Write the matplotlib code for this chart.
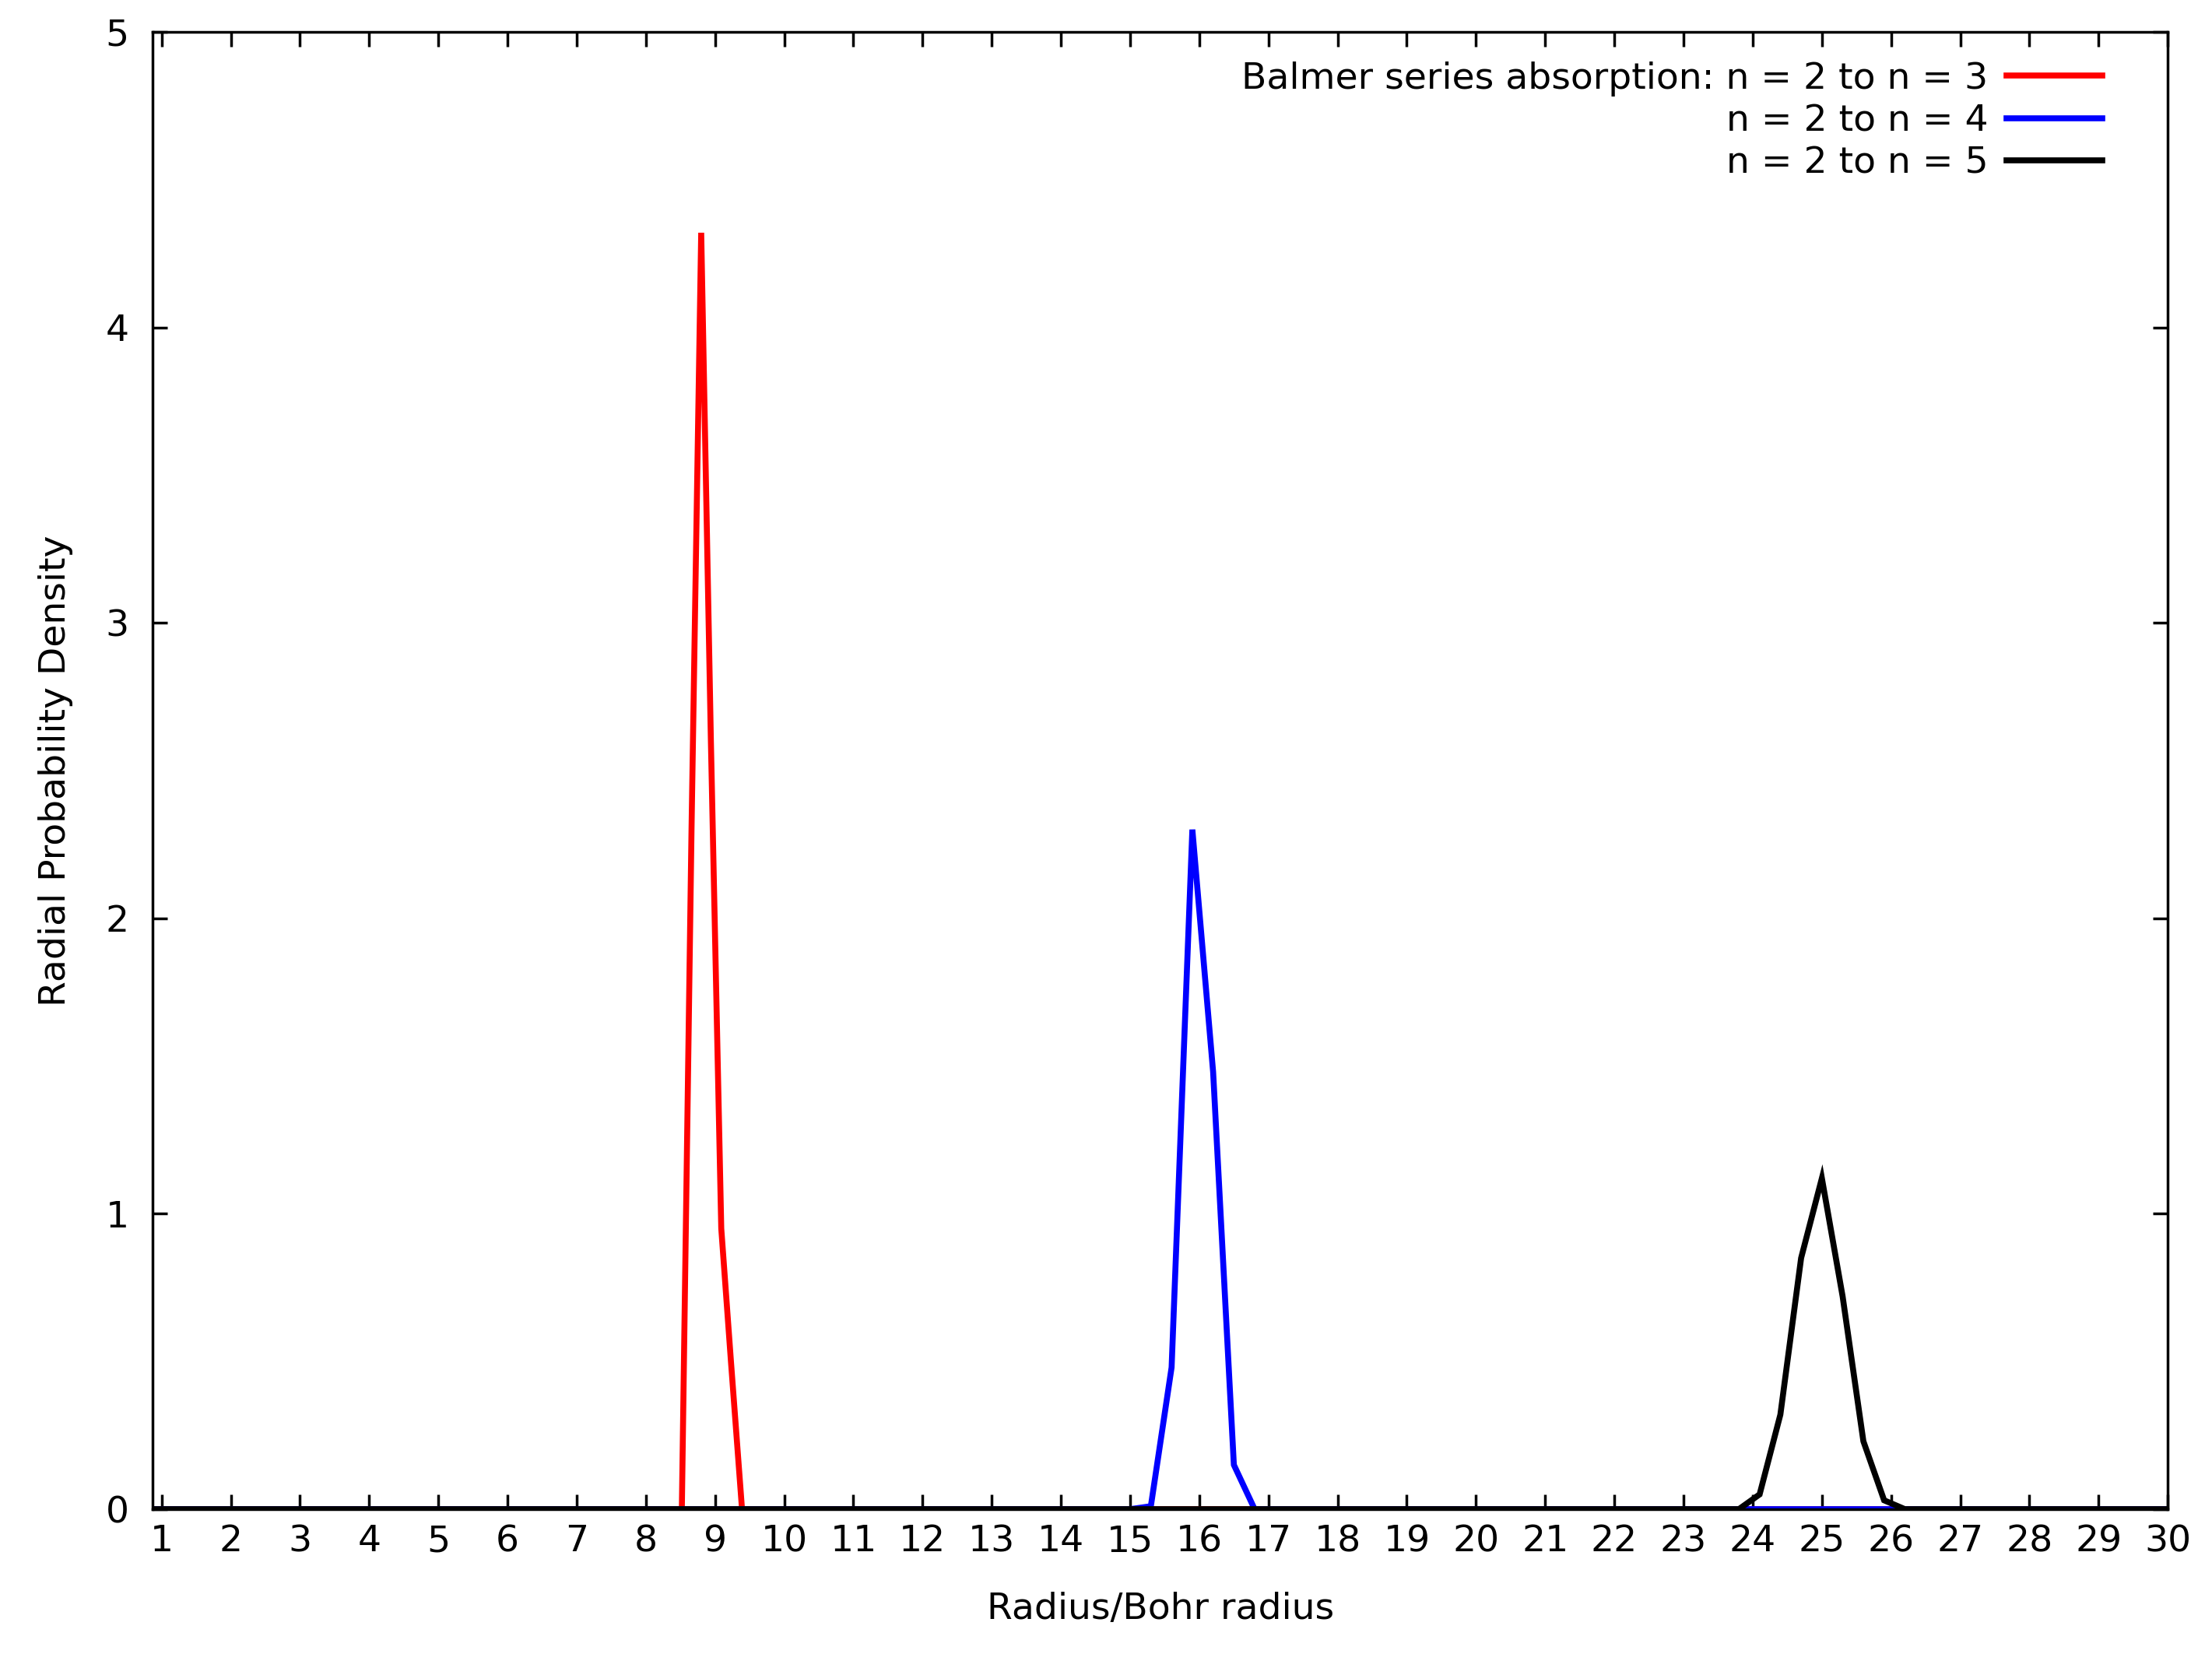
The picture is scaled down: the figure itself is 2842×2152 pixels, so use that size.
import matplotlib
matplotlib.use("Agg")
import matplotlib.pyplot as plt

labels = ["Balmer series absorption: n = 2 to n = 3", "n = 2 to n = 4", "n = 2 to n = 5"]
colors = ["#ff0000", "#0000ff", "#000000"]

x_red = [0.87, 8.52, 8.66, 8.80, 8.94, 9.09, 9.23, 9.39, 30.0]
y_red = [0.0, 0.0, 2.3, 4.32, 2.6, 0.95, 0.5, 0.0, 0.0]

x_blue = [0.87, 15.0, 15.3, 15.6, 15.9, 16.2, 16.5, 16.8, 30.0]
y_blue = [0.0, 0.0, 0.01, 0.48, 2.30, 1.48, 0.15, 0.0, 0.0]

x_black = [0.87, 23.5, 23.8, 24.1, 24.4, 24.7, 25.0, 25.3, 25.6, 25.9, 26.2, 30.0]
y_black = [0.0, 0.0, 0.0, 0.05, 0.32, 0.85, 1.12, 0.72, 0.23, 0.03, 0.0, 0.0]

xticks = list(range(1, 31))
yticks = [0, 1, 2, 3, 4, 5]

fig = plt.figure(figsize=(28.42, 21.52), dpi=100)
ax = fig.add_axes([0.069, 0.099, 0.911, 0.882])
for xs, ys, c, l in zip([x_red, x_blue, x_black], [y_red, y_blue, y_black], colors, labels):
    ax.plot(xs, ys, color=c, lw=5.5, label=l, solid_joinstyle="miter")

ax.set_xlim(0.87, 30)
ax.set_ylim(0, 5)
ax.set_xticks(xticks)
ax.set_yticks(yticks)
ax.tick_params(direction="in", length=14, width=2.5, labelsize=34, top=True, right=True, pad=14)
ax.tick_params(axis="y", pad=22)
for s in ax.spines.values():
    s.set_linewidth(2.5)
ax.set_xlabel("Radius/Bohr radius", fontsize=34, labelpad=30)
ax.set_ylabel("Radial Probability Density", fontsize=34, labelpad=30)
leg = ax.legend(loc="upper right", frameon=False, markerfirst=False, fontsize=34,
                handlelength=2.6, handletextpad=0.5, labelspacing=0.2,
                borderaxespad=0.4, bbox_to_anchor=(0.982, 1.0))
fig.savefig("out.png", dpi=100)
